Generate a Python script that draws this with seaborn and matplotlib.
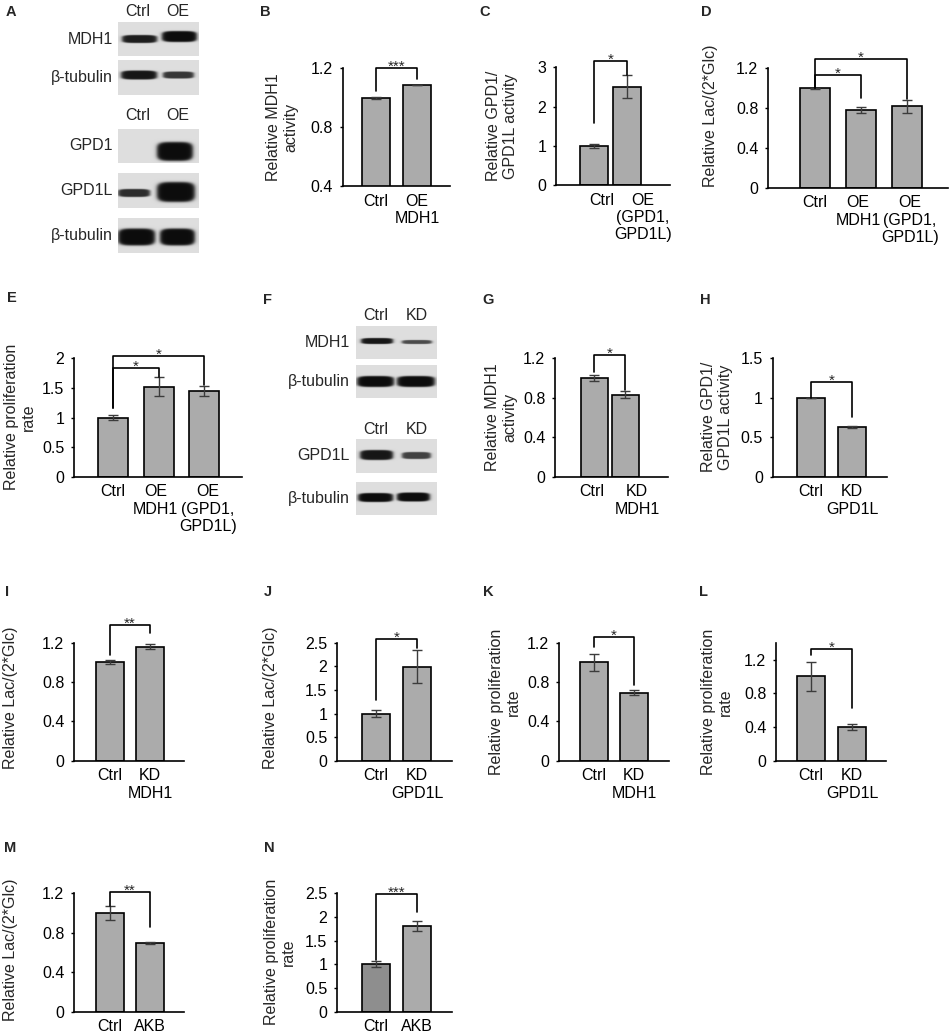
import numpy as np
import pandas as pd
import matplotlib
matplotlib.use('Agg')
import matplotlib.pyplot as plt
from matplotlib.transforms import ScaledTranslation
import seaborn as sns

sns.set_theme(style='white')
plt.rcParams['font.family'] = ['Liberation Sans', 'DejaVu Sans']
plt.rcParams['font.size'] = 11.5

W, H = 950, 1035
fig = plt.figure(figsize=(W / 100, H / 100), dpi=100)

# ---------------- data ----------------
b_cats = ['Ctrl', 'OE\nMDH1']
b_vals = [1.0, 1.087]
b_errs = [0.006, 0.002]

c_cats = ['Ctrl', 'OE\n(GPD1,\nGPD1L)']
c_vals = [1.0, 2.51]
c_errs = [0.05, 0.3]

d_cats = ['Ctrl', 'OE\nMDH1', 'OE\n(GPD1,\nGPD1L)']
d_vals = [1.0, 0.78, 0.82]
d_errs = [0.005, 0.03, 0.065]

e_cats = ['Ctrl', 'OE\nMDH1', 'OE\n(GPD1,\nGPD1L)']
e_vals = [1.0, 1.52, 1.45]
e_errs = [0.05, 0.16, 0.085]

g_cats = ['Ctrl', 'KD\nMDH1']
g_vals = [1.0, 0.83]
g_errs = [0.035, 0.035]

h_cats = ['Ctrl', 'KD\nGPD1L']
h_vals = [1.0, 0.63]
h_errs = [0.003, 0.012]

i_cats = ['Ctrl', 'KD\nMDH1']
i_vals = [1.0, 1.16]
i_errs = [0.02, 0.022]

j_cats = ['Ctrl', 'KD\nGPD1L']
j_vals = [1.0, 1.99]
j_errs = [0.08, 0.35]

k_cats = ['Ctrl', 'KD\nMDH1']
k_vals = [1.0, 0.69]
k_errs = [0.085, 0.025]

l_cats = ['Ctrl', 'KD\nGPD1L']
l_vals = [1.0, 0.40]
l_errs = [0.17, 0.04]

m_cats = ['Ctrl', 'AKB']
m_vals = [1.0, 0.70]
m_errs = [0.07, 0.01]

n_cats = ['Ctrl', 'AKB']
n_vals = [1.0, 1.81]
n_errs = [0.06, 0.1]

# significance brackets: (bar a, bar b, top, left end, right end, label)
b_sig = [(0, 1, 1.2, 1.045, 1.125, '***')]
c_sig = [(0, 1, 3.15, 1.58, 2.8, '*')]
d_sig = [(0, 1, 1.13, 1.0, 0.9, '*'), (0, 2, 1.29, 1.0, 0.89, '*')]
e_sig = [(0, 1, 1.83, 1.16, 1.68, '*'), (0, 2, 2.04, 1.16, 1.55, '*')]
g_sig = [(0, 1, 1.23, 1.06, 0.88, '*')]
h_sig = [(0, 1, 1.2, 1.0, 0.76, '*')]
i_sig = [(0, 1, 1.38, 1.07, 1.3, '**')]
j_sig = [(0, 1, 2.57, 1.29, 2.38, '*')]
k_sig = [(0, 1, 1.255, 1.16, 0.77, '*')]
l_sig = [(0, 1, 1.325, 1.25, 0.625, '*')]
m_sig = [(0, 1, 1.215, 1.07, 0.86, '**')]
n_sig = [(0, 1, 2.48, 1.09, 2.11, '***')]

lac_label = 'Relative Lac/(2*Glc)'
prolif_label = 'Relative proliferation\nrate'
mdh_label = 'Relative MDH1\nactivity'
gpd_label = 'Relative GPD1/\nGPD1L activity'

# western blot bands: (left, right, y centre, height, darkness) in pixels
a_lanes = ['Ctrl', 'OE']
a_blots = [
    ('MDH1', (118, 199, 22, 56), [(122, 157, 39, 8, 0.92), (162, 197, 36.5, 11, 1.0)]),
    ('β-tubulin', (118, 199, 60, 95), [(121, 157, 75, 9, 0.95), (163, 194, 75, 7, 0.8)]),
    ('GPD1', (118, 199, 129, 163), [(157, 193, 151.5, 19, 1.0)]),
    ('GPD1L', (118, 199, 173, 208), [(118, 150, 193, 8, 0.85), (157, 195, 192, 20, 1.0)]),
    ('β-tubulin', (118, 199, 218, 253), [(118, 155, 237, 17, 1.0), (160, 195, 237, 17, 1.0)]),
]
f_lanes = ['Ctrl', 'KD']
f_blots = [
    ('MDH1', (356, 437, 326, 359), [(361, 393, 341, 6, 0.95), (402, 432, 342, 4, 0.7)]),
    ('β-tubulin', (356, 437, 365, 398), [(357, 394, 381.5, 11, 1.0), (397, 435, 381.5, 11, 1.0)]),
    ('GPD1L', (356, 437, 439, 473), [(360, 393, 455, 10, 0.95), (402, 431, 455.5, 7, 0.75)]),
    ('β-tubulin', (356, 437, 482, 515), [(358, 393, 497.5, 9, 1.0), (397, 430, 497, 9, 1.0)]),
]

bar_gray = '#ababab'
err_gray = '#3c3c3c'


def px_rect(l, t, r, b):
    return [l / W, 1 - b / H, (r - l) / W, (b - t) / H]


def ftext(x, y, s, **kw):
    fig.text(x / W, 1 - y / H, s, **kw)


def bar_panel(rect, centers, bw, cats, vals, errs, ylim, yticks, ytl, sig,
              ylabel, ylab_xy, colors=None, lab_dx=None):
    l, t, r, b = rect
    ax = fig.add_axes(px_rect(l, t, r, b))
    sp = (centers[-1] - centers[0]) / (len(centers) - 1)
    df = pd.DataFrame({'cond': cats, 'val': vals})
    if colors is None:
        sns.barplot(data=df, x='cond', y='val', color=bar_gray, saturation=1,
                    edgecolor='black', linewidth=1.2, width=bw / sp,
                    errorbar=None, ax=ax)
    else:
        sns.barplot(data=df, x='cond', y='val', hue='cond', palette=colors,
                    legend=False, saturation=1, edgecolor='black',
                    linewidth=1.2, width=bw / sp, errorbar=None, ax=ax)
    ax.errorbar(range(len(vals)), vals, yerr=errs, fmt='none', ecolor=err_gray,
                elinewidth=1.0, capsize=3.5, capthick=1.0, zorder=5)
    ax.set_xlim((l - centers[0]) / sp, (r - centers[0]) / sp)
    ax.set_ylim(*ylim)
    ax.set_yticks(yticks)
    ax.set_yticklabels(ytl)
    ax.set_xlabel('')
    ax.set_ylabel('')
    sns.despine(ax=ax)
    for s in ('left', 'bottom'):
        ax.spines[s].set_color('black')
        ax.spines[s].set_linewidth(1.2)
    ax.tick_params(axis='y', left=True, length=2.5, width=1.0, color='black',
                   pad=4.5, labelsize=11.5, labelcolor='black')
    ax.tick_params(axis='x', bottom=False, length=0, pad=5.5, labelsize=11.5,
                   labelcolor='black')
    ax.set_facecolor('none')
    if lab_dx is not None:
        for lab, dx in zip(ax.get_xticklabels(), lab_dx):
            lab.set_transform(lab.get_transform() +
                              ScaledTranslation(dx / 100, 0, fig.dpi_scale_trans))
    for a, bb, top, ya, yb, lab in sig:
        ax.plot([a, a, bb, bb], [ya, top, top, yb], color='black', lw=1.2,
                clip_on=False, zorder=6)
        ax.annotate(lab, xy=((a + bb) / 2, top), xytext=(0, -2),
                    textcoords='offset points', ha='center', va='baseline',
                    fontsize=11, annotation_clip=False)
    ftext(ylab_xy[0], ylab_xy[1], ylabel, rotation=90, ha='center', va='center',
          multialignment='center', fontsize=11.5)
    return ax


def blot(box, bands):
    x0, x1, y0, y1 = box
    ax = fig.add_axes(px_rect(x0, y0, x1, y1))
    xs = np.linspace(x0, x1, int((x1 - x0) * 3))
    ys = np.linspace(y0, y1, int((y1 - y0) * 3))
    X, Y = np.meshgrid(xs, ys)
    dark = np.zeros_like(X)
    for bl, br, bc, bh, k in bands:
        hw, hh = (br - bl) / 2, bh / 2
        rr = (np.abs(X - (bl + br) / 2) / hw) ** 4 + (np.abs(Y - bc) / hh) ** 4
        shape = 1 / (1 + np.exp((rr ** 0.25 - 1) * 16))
        dark = np.maximum(dark, k * shape)
    img = 0.87 - 0.82 * dark
    ax.imshow(img, cmap='gray', vmin=0, vmax=1, extent=(x0, x1, y1, y0),
              aspect='auto', interpolation='bilinear')
    ax.set_axis_off()


def blot_panel(blots, lanes, lane_x, lane_y, label_x):
    for (name, box, bands) in blots:
        blot(box, bands)
        ftext(label_x, (box[2] + box[3]) / 2, name, ha='right', va='center',
              fontsize=11.5)
    for y in lane_y:
        for lx, ln in zip(lane_x, lanes):
            ftext(lx, y, ln, ha='center', va='center', fontsize=11.5)


# ---------------- panels ----------------
blot_panel(a_blots, a_lanes, [138, 178], [11, 115], 113)
blot_panel(f_blots, f_lanes, [376, 417], [315, 429], 350)

t12 = [0, 0.4, 0.8, 1.2]
t12l = ['0', '0.4', '0.8', '1.2']
t25 = [0, 0.5, 1, 1.5, 2, 2.5]
t25l = ['0', '0.5', '1', '1.5', '2', '2.5']

bar_panel((342.7, 68.3, 450, 186), [376, 417], 28, b_cats, b_vals, b_errs,
          (0.4, 1.2), [0.4, 0.8, 1.2], ['0.4', '0.8', '1.2'], b_sig,
          mdh_label, (282, 127))
bar_panel((556, 67.3, 670, 185), [594, 627], 28, c_cats, c_vals, c_errs,
          (0, 3), [0, 1, 2, 3], ['0', '1', '2', '3'], c_sig,
          gpd_label, (502, 126), lab_dx=[8, 16])
bar_panel((768, 68.3, 948, 187.7), [815, 862, 907], 30, d_cats, d_vals, d_errs,
          (0, 1.2), t12, t12l, d_sig, lac_label, (710, 116), lab_dx=[0, -3, 3])
bar_panel((74, 358.3, 241.7, 476.7), [113, 158, 204], 30, e_cats, e_vals, e_errs,
          (0, 2), [0, 0.5, 1, 1.5, 2], ['0', '0.5', '1', '1.5', '2'], e_sig,
          prolif_label, (20, 417), lab_dx=[0, -3, 4])
bar_panel((555, 358.3, 668, 476.7), [594, 625], 27, g_cats, g_vals, g_errs,
          (0, 1.2), t12, t12l, g_sig, mdh_label, (501, 417), lab_dx=[-2, 12])
bar_panel((772.7, 358.3, 886.7, 476.7), [811, 852], 28, h_cats, h_vals, h_errs,
          (0, 1.5), [0, 0.5, 1, 1.5], ['0', '0.5', '1', '1.5'], h_sig,
          gpd_label, (717, 417))
bar_panel((74, 642.7, 184, 760.7), [110, 150], 28, i_cats, i_vals, i_errs,
          (0, 1.2), t12, t12l, i_sig, lac_label, (11, 698))
bar_panel((337, 642.7, 452, 760.7), [376, 417], 28, j_cats, j_vals, j_errs,
          (0, 2.5), t25, t25l, j_sig, lac_label, (271, 698))
bar_panel((559, 642.7, 669, 760.7), [594, 634], 28, k_cats, k_vals, k_errs,
          (0, 1.2), t12, t12l, k_sig, prolif_label, (505, 702))
bar_panel((776, 642.7, 886, 760.7), [811, 852], 28, l_cats, l_vals, l_errs,
          (0, 1.4), t12, t12l, l_sig, prolif_label, (717, 702))
bar_panel((74, 893.3, 184, 1011.7), [110, 150], 28, m_cats, m_vals, m_errs,
          (0, 1.2), t12, t12l, m_sig, lac_label, (11, 950))
bar_panel((337, 893.3, 452, 1011.7), [376, 417], 28, n_cats, n_vals, n_errs,
          (0, 2.5), t25, t25l, n_sig, prolif_label, (280, 952),
          colors=['#8e8e8e', bar_gray])

# panel letters
letters = {'A': (11, 12), 'B': (265, 12), 'C': (485, 12), 'D': (706, 12),
           'E': (12, 298), 'F': (267, 300), 'G': (488, 300), 'H': (705, 300),
           'I': (7, 592), 'J': (268, 592), 'K': (488, 592), 'L': (704, 592),
           'M': (10, 848), 'N': (269, 848)}
for k, (x, y) in letters.items():
    ftext(x, y, k, ha='center', va='center', fontsize=10.5, fontweight='bold')

fig.savefig('out.png', dpi=100, facecolor='white')
